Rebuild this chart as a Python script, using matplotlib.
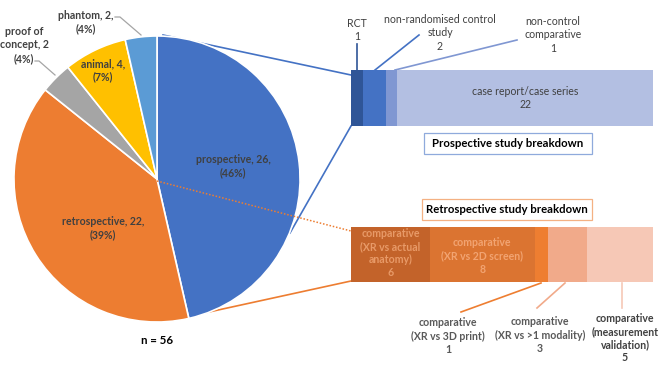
import numpy as np
import matplotlib.pyplot as plt
from matplotlib.patches import Rectangle

plt.rcParams['font.family'] = ['Lato', 'DejaVu Sans']

# pie data (clockwise from 12 o'clock)
study_types = ['prospective', 'retrospective', 'proof of concept', 'animal', 'phantom']
study_counts = [26, 22, 2, 4, 2]
pie_colors = ['#4472C4', '#ED7D31', '#A5A5A5', '#FFC000', '#5B9BD5']

# prospective breakdown
pro_labels = ['RCT', 'non-randomised control\nstudy', 'non-control\ncomparative', 'case report/case series']
pro_counts = [1, 2, 1, 22]
pro_colors = ['#2F5597', '#4472C4', '#8097D2', '#B3BFE2']

# retrospective breakdown
retro_labels = ['comparative\n(XR vs actual\nanatomy)', 'comparative\n(XR vs 2D screen)',
                'comparative\n(XR vs 3D print)', 'comparative\n(XR vs >1 modality)',
                'comparative\n(measurement\nvalidation)']
retro_counts = [6, 8, 1, 3, 5]
retro_colors = ['#C3632A', '#DB7431', '#EE7E31', '#F1AA8A', '#F6C8B6']

W, H = 662, 373
def py(y):
    return H - y

fig = plt.figure(figsize=(W / 100, H / 100), dpi=100)
ax = fig.add_axes([0, 0, 1, 1])

GRAY = '#404040'

# ---- pie
total = sum(study_counts)
wedges, _ = ax.pie(study_counts, colors=pie_colors, startangle=90, counterclock=False,
                   center=(157, py(179)), radius=143, explode=[0.045, 0.028, 0, 0, 0],
                   wedgeprops=dict(edgecolor='white', linewidth=1.2))
for w in wedges:
    w.set_zorder(2)
ax.set_xlim(0, W); ax.set_ylim(0, H)
ax.set_aspect('equal', adjustable='box')
ax.axis('off')

pct = [round(100 * c / total) for c in study_counts]
bold = dict(fontsize=7.6, fontweight='bold', color=GRAY, ha='center', va='center',
            linespacing=1.25, zorder=5)
ax.text(233, py(166), f'{study_types[0]}, {study_counts[0]},\n({pct[0]}%)', **bold)
ax.text(103, py(228), f'{study_types[1]}, {study_counts[1]},\n({pct[1]}%)', **bold)
ax.text(24, py(45), f'proof of\nconcept, {study_counts[2]}\n({pct[2]}%)', **bold)
ax.text(103, py(70), f'{study_types[3]}, {study_counts[3]},\n({pct[3]}%)', **bold)
ax.text(86, py(22), f'{study_types[4]}, {study_counts[4]},\n({pct[4]}%)', **bold)
ax.plot([35, 39, 55], [py(61), py(61), py(75)], color='#A5A5A5', lw=0.9, zorder=1)
ax.plot([115, 120, 141], [py(17), py(17), py(35)], color='#A5A5A5', lw=0.9, zorder=1)
ax.text(157, py(340), f'n = {total}', fontsize=8.3, fontweight='bold', color='black',
        ha='center', va='center')

# ---- connector lines
ax.plot([163, 351], [py(35), py(75)], color='#4472C4', lw=1.2, zorder=1)
ax.plot([351, 290], [py(126), py(233)], color='#4472C4', lw=1.2, zorder=1)
ax.plot([157, 351], [py(181), py(231)], color='#ED7D31', lw=1.1, ls=(0, (1, 1.2)), zorder=4)
ax.plot([186, 351], [py(317), py(281)], color='#ED7D31', lw=1.2, zorder=1)

# ---- stacked bars
x0, x1 = 351, 653
def stacked(counts, colors, yc, h):
    widths = np.array(counts) * (x1 - x0) / sum(counts)
    lefts = x0 + np.concatenate([[0], np.cumsum(widths)[:-1]])
    ax.barh(py(yc), widths, left=lefts, height=h, color=colors, edgecolor='none', zorder=3)
    return lefts, widths

pl, pw = stacked(pro_counts, pro_colors, 98, 56)
rl, rw = stacked(retro_counts, retro_colors, 254.5, 55)

norm = dict(fontsize=7.6, color=GRAY, ha='center', va='center', linespacing=1.3, zorder=5)
ax.text(pl[3] + pw[3] / 2, py(98), f'{pro_labels[3]}\n{pro_counts[3]}', **norm)
ax.text(357, py(30), f'{pro_labels[0]}\n{pro_counts[0]}', **norm)
ax.text(440, py(33), f'{pro_labels[1]}\n{pro_counts[1]}', **norm)
ax.text(553, py(35), f'{pro_labels[2]}\n{pro_counts[2]}', **norm)
ax.plot([357, 357], [py(44), py(70)], color=pro_colors[0], lw=1.2)
ax.plot([419, 375], [py(35), py(70)], color=pro_colors[1], lw=1.2)
ax.plot([517, 395], [py(40), py(70)], color=pro_colors[2], lw=1.2)

inner = dict(fontsize=7.6, fontweight='bold', ha='center', va='center', linespacing=1.25, zorder=5)
ax.text(rl[0] + rw[0] / 2, py(253), f'{retro_labels[0]}\n{retro_counts[0]}', color='#E89A68', **inner)
ax.text(rl[1] + rw[1] / 2, py(256), f'{retro_labels[1]}\n{retro_counts[1]}', color='#F2A472', **inner)
ax.text(448, py(336), f'{retro_labels[2]}\n{retro_counts[2]}', color='#595959', **inner)
ax.text(540, py(335), f'{retro_labels[3]}\n{retro_counts[3]}', color='#595959', **inner)
ax.text(625, py(338), f'{retro_labels[4]}\n{retro_counts[4]}', color=GRAY, **inner)
ax.plot([541, 461], [py(283), py(312)], color=retro_colors[2], lw=1.2)
ax.plot([565, 537], [py(283), py(308)], color=retro_colors[3], lw=1.2)
ax.plot([622, 622], [py(283), py(308)], color=retro_colors[4], lw=1.2)

# ---- title boxes
ax.add_patch(Rectangle((424, py(154)), 168, 21, facecolor='white', edgecolor='#8FAADC', lw=0.9, zorder=3))
ax.text(508, py(143.5), 'Prospective study breakdown', fontsize=8.2, fontweight='bold',
        color='black', ha='center', va='center', zorder=5)
ax.add_patch(Rectangle((422, py(220)), 170, 21, facecolor='white', edgecolor='#F4B183', lw=0.9, zorder=3))
ax.text(507, py(209.5), 'Retrospective study breakdown', fontsize=8.2, fontweight='bold',
        color='black', ha='center', va='center', zorder=5)

fig.savefig('out.png', dpi=100)
